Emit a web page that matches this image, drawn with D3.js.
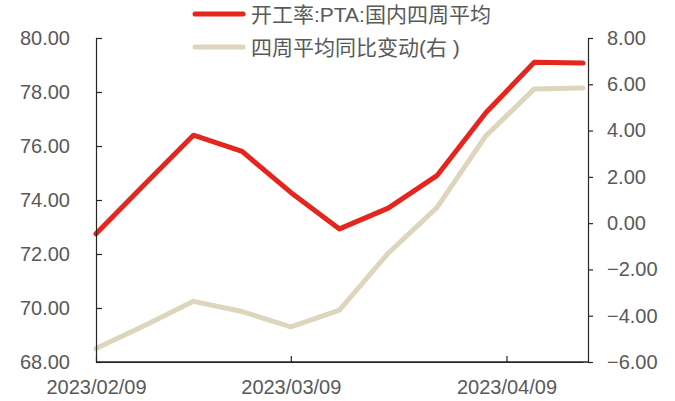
<!DOCTYPE html>
<html>
<head>
<meta charset="utf-8">
<script src="https://cdn.jsdelivr.net/npm/d3@7"></script>
<style>
  body { margin: 0; background: #fff; }
  svg text { font-family: "Liberation Sans", Arial, "Noto Sans CJK SC", sans-serif; fill: #595959; }
</style>
</head>
<body>
<svg id="chart"></svg>
<script>
// weekly dates
var dates = ['2023/02/09','2023/02/16','2023/02/23','2023/03/02','2023/03/09','2023/03/16',
             '2023/03/23','2023/03/30','2023/04/06','2023/04/13','2023/04/20'];
// 开工率:PTA:国内四周平均 (left)
var rateVals = [72.75, 74.58, 76.40, 75.80, 74.28, 72.93, 73.70, 74.90, 77.22, 79.10, 79.07];
// 四周平均同比变动 (right)
var yoyVals = [-5.42, -4.42, -3.38, -3.82, -4.48, -3.76, -1.30, 0.67, 3.76, 5.80, 5.84];
var xTicks = ['2023/02/09','2023/03/09','2023/04/09'];
var leftTicks = [68, 70, 72, 74, 76, 78, 80];
var rightTicks = [-6, -4, -2, 0, 2, 4, 6, 8];
var names = ['开工率:PTA:国内四周平均', '四周平均同比变动(右 )'];

var width = 675, height = 401;
var margin = {top: 38, right: 89, bottom: 39, left: 96};

var parse = d3.timeParse('%Y/%m/%d');
var fmt = d3.timeFormat('%Y/%m/%d');

var svg = d3.select('#chart')
    .attr('width', width)
    .attr('height', height);

var x = d3.scaleTime()
    .domain([parse('2023/02/09'), parse('2023/04/20')])
    .range([margin.left, 583]);

var yL = d3.scaleLinear()
    .domain([68, 80])
    .range([height - margin.bottom, margin.top]);

var yR = d3.scaleLinear()
    .domain([-6, 8])
    .range([height - margin.bottom, margin.top]);

var rate = dates.map(function(d, i) { return {date: parse(d), val: rateVals[i]}; });
var yoy = dates.map(function(d, i) { return {date: parse(d), val: yoyVals[i]}; });

// lines first so axes sit on top
var lineR = d3.line().x(function(d) { return x(d.date); }).y(function(d) { return yR(d.val); });
var lineL = d3.line().x(function(d) { return x(d.date); }).y(function(d) { return yL(d.val); });

svg.append('path')
    .datum(yoy)
    .attr('d', lineR)
    .attr('fill', 'none')
    .attr('stroke', '#DED5BD')
    .attr('stroke-width', 5)
    .attr('stroke-linejoin', 'round')
    .attr('stroke-linecap', 'round');

svg.append('path')
    .datum(rate)
    .attr('d', lineL)
    .attr('fill', 'none')
    .attr('stroke', '#E5261E')
    .attr('stroke-width', 5)
    .attr('stroke-linejoin', 'round')
    .attr('stroke-linecap', 'round');

// left axis
var gL = svg.append('g')
    .attr('transform', 'translate(' + margin.left + ',0)')
    .call(d3.axisLeft(yL).tickValues(leftTicks).tickFormat(d3.format('.2f')).tickSizeInner(-6).tickSizeOuter(0).tickPadding(26));

// right axis
var rightX = width - margin.right + 2;
var gR = svg.append('g')
    .attr('transform', 'translate(' + rightX + ',0)')
    .call(d3.axisRight(yR).tickValues(rightTicks).tickFormat(d3.format('.2f')).tickSizeInner(5).tickSizeOuter(0).tickPadding(14));

// bottom axis
var gB = svg.append('g')
    .attr('transform', 'translate(0,' + (height - margin.bottom) + ')')
    .call(d3.axisBottom(x).tickValues(xTicks.map(parse)).tickFormat(fmt).tickSizeInner(-6).tickSizeOuter(0).tickPadding(18));

svg.append('line')
    .attr('x1', margin.left).attr('x2', rightX)
    .attr('y1', height - margin.bottom).attr('y2', height - margin.bottom)
    .attr('stroke', '#262626').attr('stroke-width', 1.5);

[gL, gR, gB].forEach(function(g) {
  g.select('.domain').attr('stroke', '#262626').attr('stroke-width', 1.2);
  g.selectAll('.tick line').attr('stroke', '#262626').attr('stroke-width', 1.2);
  g.selectAll('.tick text').style('font-size', '20px').attr('fill', '#595959');
});

// legend
var legColors = ['#E5261E', '#DED5BD'];
var leg = svg.append('g');
names.forEach(function(n, i) {
  var ly = 14 + i * 33;
  leg.append('line')
     .attr('x1', 195).attr('x2', 243)
     .attr('y1', ly).attr('y2', ly)
     .attr('stroke', legColors[i])
     .attr('stroke-width', 5)
     .attr('stroke-linecap', 'round');
  leg.append('text')
     .attr('x', 251).attr('y', ly + 8)
     .style('font-size', '21px')
     .text(n);
});
</script>
</body>
</html>
